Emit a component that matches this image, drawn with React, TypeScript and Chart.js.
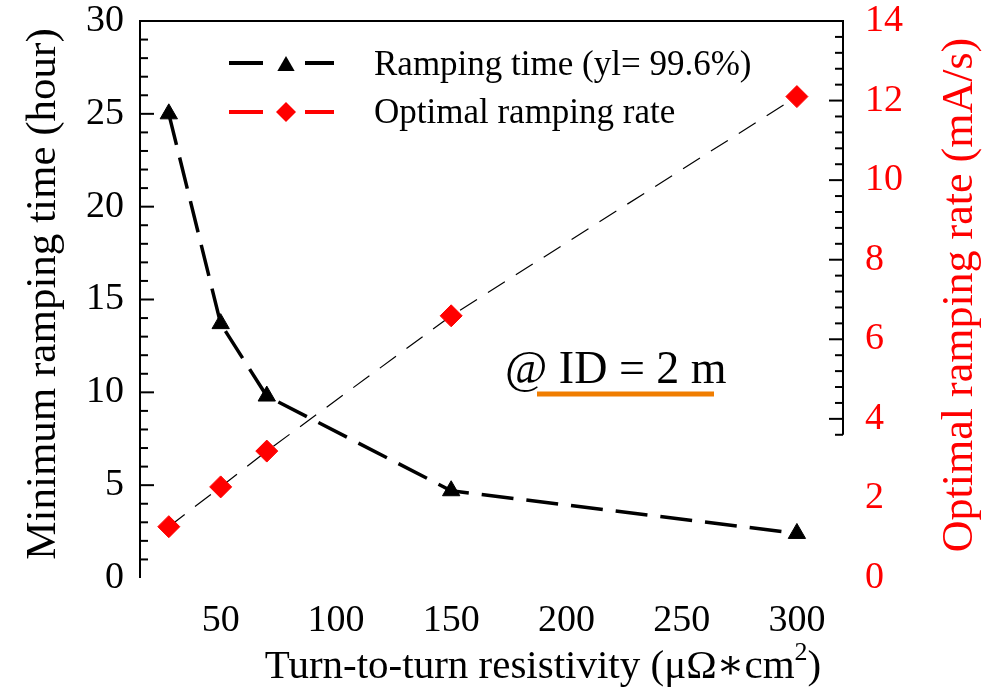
import { useEffect, useRef } from "react";
import { Chart, registerables } from "chart.js";

Chart.register(...registerables);

const resistivity = [27.5, 50, 70, 150, 300];
const rampingTime = [25, 13.7, 9.8, 4.7, 2.4];
const rampingRate = [1.29, 2.29, 3.19, 6.59, 12.1];
const xTickValues = [50, 100, 150, 200, 250, 300];
const leftTickValues = [0, 5, 10, 15, 20, 25, 30];
const rightTickValues = [0, 2, 4, 6, 8, 10, 12, 14];
const seriesLabels = ["Ramping time (yl= 99.6%)", "Optimal ramping rate"];
const xTitle = "Turn-to-turn resistivity (μΩ∗cm";
const leftTitle = "Minimum ramping time (hour)";
const rightTitle = "Optimal ramping rate (mA/s)";
const annotationText = "@ ID = 2 m";

const SERIF = "'Liberation Serif', 'DejaVu Serif', serif";
const RED = "#ff0000";

const decorPlugin = {
  id: "decor",
  afterDraw(chart: any) {
    const ctx = chart.ctx as CanvasRenderingContext2D;
    const { left, right, top, bottom } = chart.chartArea;
    const y = chart.scales.y;
    const y1 = chart.scales.y1;
    ctx.save();
    ctx.strokeStyle = "#000";
    ctx.lineWidth = 2;
    ctx.lineCap = "butt";
    // top border
    ctx.beginPath();
    ctx.moveTo(left - 1, top);
    ctx.lineTo(right + 1, top);
    ctx.stroke();
    // left axis
    ctx.beginPath();
    ctx.moveTo(left, top);
    ctx.lineTo(left, bottom);
    ctx.stroke();
    for (let v = 1; v < 30; v++) {
      const py = y.getPixelForValue(v);
      const len = v % 5 === 0 ? 14 : 8;
      ctx.beginPath();
      ctx.moveTo(left, py);
      ctx.lineTo(left + len, py);
      ctx.stroke();
    }
    // right axis (partial)
    const rEnd = y1.getPixelForValue(3.6);
    ctx.beginPath();
    ctx.moveTo(right, top);
    ctx.lineTo(right, rEnd);
    ctx.stroke();
    for (let k = 9; k < 35; k++) {
      const py = y1.getPixelForValue(k * 0.4);
      const len = k % 5 === 0 ? 14 : 8;
      ctx.beginPath();
      ctx.moveTo(right, py);
      ctx.lineTo(right - len, py);
      ctx.stroke();
    }

    // titles
    ctx.fillStyle = "#000";
    ctx.textAlign = "center";
    ctx.textBaseline = "middle";
    ctx.save();
    ctx.translate(44, 294);
    ctx.rotate(-Math.PI / 2);
    ctx.font = `43px ${SERIF}`;
    ctx.fillText(leftTitle, 0, 0);
    ctx.restore();

    ctx.save();
    ctx.translate(960, 295);
    ctx.rotate(-Math.PI / 2);
    ctx.fillStyle = RED;
    ctx.font = `44px ${SERIF}`;
    ctx.fillText(rightTitle, 0, 0);
    ctx.restore();

    // x title with superscript
    ctx.textBaseline = "alphabetic";
    ctx.textAlign = "left";
    ctx.font = `41px ${SERIF}`;
    const mainW = ctx.measureText(xTitle).width;
    ctx.font = `26px ${SERIF}`;
    const supW = ctx.measureText("2").width;
    ctx.font = `41px ${SERIF}`;
    const closeW = ctx.measureText(")").width;
    const total = mainW + supW + closeW;
    let tx = 543 - total / 2;
    const base = 678;
    ctx.fillText(xTitle, tx, base);
    tx += mainW;
    ctx.font = `26px ${SERIF}`;
    ctx.fillText("2", tx, base - 18);
    tx += supW;
    ctx.font = `41px ${SERIF}`;
    ctx.fillText(")", tx, base);

    // annotation
    ctx.font = `46px ${SERIF}`;
    ctx.fillText(annotationText, 505, 383);
    ctx.strokeStyle = "#f07d00";
    ctx.lineWidth = 5;
    ctx.beginPath();
    ctx.moveTo(537, 394);
    ctx.lineTo(714, 394);
    ctx.stroke();

    // legend
    const rows = [
      { ly: 63, base: 75, color: "#000", style: "triangle", r: 10, my: 66 },
      { ly: 112, base: 123, color: RED, style: "rectRot", r: 10, my: 112 },
    ];
    rows.forEach((row, i) => {
      ctx.strokeStyle = row.color;
      ctx.lineWidth = 4;
      ctx.beginPath();
      ctx.moveTo(229, row.ly);
      ctx.lineTo(263, row.ly);
      ctx.moveTo(305, row.ly);
      ctx.lineTo(334, row.ly);
      ctx.stroke();
      ctx.fillStyle = row.color;
      ctx.beginPath();
      const cx = 286;
      const r = row.r;
      const cy = row.my;
      if (row.style === "triangle") {
        ctx.moveTo(cx, cy - r);
        ctx.lineTo(cx + r * 0.866, cy + r * 0.5);
        ctx.lineTo(cx - r * 0.866, cy + r * 0.5);
      } else {
        ctx.moveTo(cx - r, cy);
        ctx.lineTo(cx, cy - r);
        ctx.lineTo(cx + r, cy);
        ctx.lineTo(cx, cy + r);
      }
      ctx.closePath();
      ctx.fill();
      ctx.fillStyle = "#000";
      ctx.font = `35px ${SERIF}`;
      ctx.textAlign = "left";
      ctx.textBaseline = "alphabetic";
      ctx.fillText(seriesLabels[i], 374, row.base);
    });
    ctx.restore();
  },
};

export default function App() {
  const canvasRef = useRef<HTMLCanvasElement | null>(null);

  useEffect(() => {
    if (!canvasRef.current) return;
    const chart = new Chart(canvasRef.current, {
      type: "line",
      data: {
        datasets: [
          {
            label: seriesLabels[0],
            data: resistivity.map((x, i) => ({ x, y: rampingTime[i] })),
            yAxisID: "y",
            borderColor: "#000",
            borderWidth: 3.5,
            borderDash: [32, 13],
            pointStyle: "triangle",
            pointRadius: 10,
            pointBackgroundColor: "#000",
            pointBorderColor: "#000",
            pointBorderWidth: 1,
            tension: 0,
            fill: false,
          },
          {
            label: seriesLabels[1],
            data: resistivity.map((x, i) => ({ x, y: rampingRate[i] })),
            yAxisID: "y1",
            borderColor: "#000",
            borderWidth: 1.2,
            borderDash: [20, 13],
            pointStyle: "rectRot",
            pointRadius: 11,
            pointBackgroundColor: RED,
            pointBorderColor: RED,
            pointBorderWidth: 1,
            tension: 0,
            fill: false,
          },
        ],
      },
      options: {
        animation: false,
        responsive: false,
        layout: { padding: { top: 21, left: 0, right: 0, bottom: 0 } },
        plugins: {
          legend: { display: false },
          tooltip: { enabled: false },
        },
        scales: {
          x: {
            type: "linear",
            min: 15,
            max: 320,
            grid: { display: false, drawTicks: false },
            border: { display: false },
            afterBuildTicks: (s: any) => {
              s.ticks = xTickValues.map((v) => ({ value: v }));
            },
            afterFit: (s: any) => {
              s.height = 115;
              s.paddingLeft = 0;
              s.paddingRight = 0;
            },
            ticks: {
              color: "#000",
              font: { family: SERIF, size: 38, lineHeight: 1 },
              padding: 24,
              maxRotation: 0,
              autoSkip: false,
            },
          },
          y: {
            type: "linear",
            position: "left",
            min: 0,
            max: 30,
            grid: { display: false, drawTicks: false },
            border: { display: false },
            afterBuildTicks: (s: any) => {
              s.ticks = leftTickValues.map((v) => ({ value: v }));
            },
            afterFit: (s: any) => {
              s.width = 140;
              s.paddingTop = 0;
              s.paddingBottom = 0;
            },
            ticks: {
              color: "#000",
              font: { family: SERIF, size: 38, lineHeight: 1 },
              padding: 16,
            },
          },
          y1: {
            type: "linear",
            position: "right",
            min: 0,
            max: 14,
            grid: { display: false, drawTicks: false },
            border: { display: false },
            afterBuildTicks: (s: any) => {
              s.ticks = rightTickValues.map((v) => ({ value: v }));
            },
            afterFit: (s: any) => {
              s.width = 141;
              s.paddingTop = 0;
              s.paddingBottom = 0;
            },
            ticks: {
              color: RED,
              font: { family: SERIF, size: 38, lineHeight: 1 },
              padding: 22,
            },
          },
        },
      },
      plugins: [decorPlugin],
    });
    return () => chart.destroy();
  }, []);

  return (
    <div style={{ position: "absolute", left: 0, top: 0, width: 984, height: 693, background: "#fff" }}>
      <canvas ref={canvasRef} width={984} height={693} style={{ display: "block" }} />
    </div>
  );
}
